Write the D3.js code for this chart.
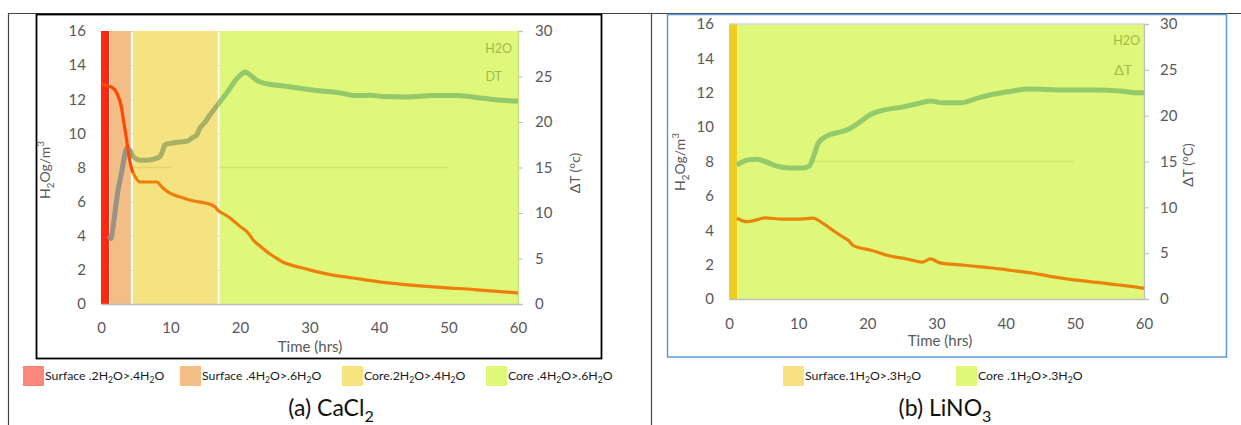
<!DOCTYPE html>
<html><head><meta charset="utf-8">
<script src="https://cdn.jsdelivr.net/npm/d3@7"></script>
<style>body{margin:0;background:#fff}svg{display:block}text{font-family:Lato,'Open Sans',sans-serif}</style>
</head><body><svg id="c" width="1241" height="425"></svg>
<script>
// ---------- shared ticks ----------
const xTicks = [0, 10, 20, 30, 40, 50, 60];
const yLeftTicks = [0, 2, 4, 6, 8, 10, 12, 14, 16];
const yRightTicks = [0, 5, 10, 15, 20, 25, 30];

// ---------- panel (a) CaCl2 ----------
const aBandStart = [0, 1.3, 4.6, 17.05];
const aBandEnd = [1.15, 4.3, 16.8, 60];
const aLegendLabels = ["Surface .2H_2O>.4H_2O", "Surface .4H_2O>.6H_2O", "Core.2H_2O>.4H_2O", "Core .4H_2O>.6H_2O"];
const aH2OEarlyT = [0, 1.2, 1.6, 2.3, 2.9, 3.3, 3.7, 4.0, 4.3, 4.6];
const aH2OEarlyV = [12.9, 12.75, 12.7, 12.35, 11.6, 10.6, 9.6, 8.7, 8.1, 7.7];
const aH2OLateT = [4.6, 5.0, 5.6, 6.6, 8.0, 8.9, 9.9, 11.4, 13.2, 15.2, 16.4, 16.8, 18.0, 19.0, 20.0, 21.2, 21.9, 23.0, 23.9, 25.0, 26.2, 27.4, 28.6, 30.0, 31.0, 33.0, 35.8, 38.3, 40.6, 43.0, 45.4, 47.8, 50.3, 52.7, 55.0, 57.5, 60];
const aH2OLateV = [7.7, 7.4, 7.15, 7.15, 7.15, 6.8, 6.5, 6.27, 6.05, 5.9, 5.7, 5.5, 5.2, 4.9, 4.55, 4.15, 3.75, 3.35, 3.05, 2.75, 2.45, 2.28, 2.15, 2.0, 1.9, 1.72, 1.55, 1.4, 1.27, 1.17, 1.08, 1.0, 0.93, 0.88, 0.8, 0.72, 0.65];
const aDTT = [1.2, 1.45, 1.6, 2.0, 2.45, 3.0, 3.45, 3.75, 4.0, 4.3, 4.6, 5.2, 5.6, 6.6, 7.5, 8.5, 8.9, 9.2, 10.4, 11.4, 12.4, 13.2, 13.8, 14.2, 15.0, 15.7, 16.8, 18.1, 19.6, 20.3, 20.7, 21.4, 22.2, 22.9, 24.7, 26.8, 28.6, 31.0, 34.4, 36.8, 38.8, 40.6, 44.0, 47.8, 51.2, 55.0, 57.4, 60];
const aDTV = [7.5, 7.2, 7.8, 10.0, 12.5, 14.6, 16.5, 17.2, 17.0, 16.7, 16.2, 15.9, 15.8, 15.8, 15.9, 16.2, 16.9, 17.5, 17.7, 17.8, 17.9, 18.3, 18.6, 19.3, 20.0, 20.8, 21.9, 23.2, 24.8, 25.3, 25.5, 25.2, 24.7, 24.4, 24.1, 23.9, 23.7, 23.45, 23.2, 22.9, 22.95, 22.8, 22.75, 22.9, 22.9, 22.6, 22.4, 22.3];
const aRefStart = [4.8, 17.1];
const aRefEnd = [10.2, 50];
const aRefValue = 15;

// ---------- panel (b) LiNO3 ----------
const bBandStart = [0, 1.2];
const bBandEnd = [1.2, 60];
const bLegendLabels = ["Surface.1H_2O>.3H_2O", "Core .1H_2O>.3H_2O"];
const bH2OT = [1.15, 2.6, 4.0, 5.2, 7.8, 10.3, 12.1, 13.6, 15.0, 16.3, 17.2, 18.0, 19.0, 20.4, 23.3, 25.7, 28.0, 29.1, 30.5, 32.0, 34.4, 36.8, 39.2, 41.6, 44.0, 46.4, 48.8, 51.2, 53.6, 56.0, 58.4, 60];
const bH2OV = [4.7, 4.5, 4.6, 4.72, 4.65, 4.65, 4.7, 4.4, 4.0, 3.65, 3.43, 3.1, 2.97, 2.85, 2.5, 2.33, 2.15, 2.33, 2.1, 2.03, 1.95, 1.85, 1.75, 1.62, 1.5, 1.32, 1.17, 1.05, 0.95, 0.83, 0.72, 0.62];
const bDTT = [1.15, 2.6, 4.0, 5.2, 6.9, 8.8, 10.7, 11.6, 12.2, 12.9, 14.2, 16.0, 17.5, 18.9, 20.4, 22.3, 24.7, 27.2, 29.1, 30.9, 32.0, 33.4, 36.3, 40.2, 43.5, 48.3, 53.2, 56.5, 59, 60];
const bDTV = [14.6, 15.15, 15.25, 15.0, 14.5, 14.3, 14.3, 14.5, 15.5, 17.0, 17.8, 18.2, 18.6, 19.3, 20.1, 20.6, 20.9, 21.3, 21.6, 21.4, 21.4, 21.4, 22.0, 22.6, 22.9, 22.8, 22.8, 22.7, 22.5, 22.5];
const bRefStart = [11.7];
const bRefEnd = [50];
const bRefValue = 15;

// ---------- styles ----------
const aBandColors = ["#fe2712", "#f2bd86", "#f5e280", "#dff77a"];
const aLegendColors = ["#fb877a", "#f4bd85", "#f7e380", "#e0f878"];
const bBandColors = ["#f1cd1f", "#dff77a"];
const bLegendColors = ["#f7e27f", "#e0f878"];
const tickColor = "#595959";
const FONT = "Lato, 'Open Sans', sans-serif";

const svg = d3.select("#c");

function rich(t, str, fs) {
  const parts = str.split(/([_^][0-9])/).filter(p => p.length);
  let shift = 0;
  parts.forEach(p => {
    const ts = t.append("tspan");
    if (p[0] === "_" || p[0] === "^") {
      const s = p[0] === "_" ? fs * 0.25 : -fs * 0.42;
      ts.attr("font-size", fs * 0.7).attr("dy", s - shift).text(p[1]);
      shift = s;
    } else {
      ts.attr("dy", -shift).text(p);
      shift = 0;
    }
  });
}
const zip = (a, b) => a.map((d, i) => [d, b[i]]);

// ---------- frame ----------
svg.append("line").attr("x1", 8).attr("x2", 1241).attr("y1", 13.5).attr("y2", 13.5).attr("stroke", "#444").attr("stroke-width", 1.2);
svg.append("line").attr("x1", 8.5).attr("x2", 8.5).attr("y1", 13).attr("y2", 425).attr("stroke", "#444").attr("stroke-width", 1.2);
svg.append("line").attr("x1", 651.5).attr("x2", 651.5).attr("y1", 13).attr("y2", 425).attr("stroke", "#444").attr("stroke-width", 1.2);
svg.append("rect").attr("x", 36.5).attr("y", 14.5).attr("width", 565).attr("height", 344).attr("fill", "none").attr("stroke", "#000").attr("stroke-width", 1.8);
svg.append("rect").attr("x", 667.5).attr("y", 14.5).attr("width", 559).attr("height", 342.5).attr("fill", "none").attr("stroke", "#5b9bd5").attr("stroke-width", 1.5);

function panel(o) {
  const g = svg.append("g");
  const x = d3.scaleLinear().domain([0, 60]).range(o.xr);
  const yL = d3.scaleLinear().domain([0, 16]).range(o.yr);
  const yR = d3.scaleLinear().domain([0, 30]).range(o.yr);
  g.append("g").selectAll("line").data(yLeftTicks).join("line")
    .attr("x1", x(0)).attr("x2", x(60)).attr("y1", d => yL(d) + 0.5).attr("y2", d => yL(d) + 0.5)
    .attr("stroke", "#d9d9d9").attr("stroke-width", 1);
  g.append("g").selectAll("rect").data(o.bandStart).join("rect")
    .attr("x", d => x(d)).attr("width", (d, i) => x(o.bandEnd[i]) - x(d))
    .attr("y", yL(16)).attr("height", yL(0) - yL(16))
    .attr("fill", (d, i) => o.bandColors[i]);
  if (o.topGrid) {
    g.append("line").attr("x1", x(0)).attr("x2", x(60)).attr("y1", yL(16)).attr("y2", yL(16)).attr("stroke", "#d6d6d6").attr("stroke-width", 1.5);
  }
  g.append("g").selectAll("line").data(o.refStart).join("line")
    .attr("x1", d => x(d)).attr("x2", (d, i) => x(o.refEnd[i]))
    .attr("y1", yR(o.refValue)).attr("y2", yR(o.refValue))
    .attr("stroke", "rgba(130,140,0,0.16)").attr("stroke-width", 1.6);
  const xa = g.append("g").attr("transform", `translate(0,${o.yr[0]})`)
    .call(d3.axisBottom(x).tickValues(xTicks).tickSize(0).tickPadding(o.xPad));
  xa.select(".domain").attr("stroke", "#bfbfbf").attr("stroke-width", 1.3);
  xa.selectAll("text").attr("fill", tickColor).attr("font-size", 15).attr("font-family", FONT);
  const la = g.append("g").attr("transform", `translate(${o.xr[0]},0)`)
    .call(d3.axisLeft(yL).tickValues(yLeftTicks).tickSize(0).tickPadding(15));
  la.select(".domain").remove();
  la.selectAll("text").attr("fill", tickColor).attr("font-size", 15).attr("font-family", FONT);
  const ra = g.append("g").attr("transform", `translate(${o.xr[1]},0)`)
    .call(d3.axisRight(yR).tickValues(yRightTicks).tickSize(5).tickPadding(o.rPad));
  ra.select(".domain").attr("stroke", o.rDomain).attr("stroke-width", 1.3);
  ra.selectAll("line").attr("stroke", "#bfbfbf");
  ra.selectAll("text").attr("fill", tickColor).attr("font-size", 15).attr("font-family", FONT);
  return { g, x, yL, yR };
}

function lineOf(x, y) {
  return d3.line().x(d => x(d[0])).y(d => y(d[1])).curve(d3.curveMonotoneX);
}

// ================= Panel A =================
const A = panel({ xr: [101, 518], yr: [304, 31], bandStart: aBandStart, bandEnd: aBandEnd, bandColors: aBandColors,
  refStart: aRefStart, refEnd: aRefEnd, refValue: aRefValue, xPad: 18, rPad: 12, rDomain: "#c8dc82", topGrid: false });
{
  const defs = svg.append("defs");
  const segs = [[-1, 4.45, "#9a9284"], [4.45, 16.9, "#a8b064"], [16.9, 61, "#93c96b"]];
  segs.forEach((s, i) => {
    defs.append("clipPath").attr("id", "ca" + i).append("rect")
      .attr("x", A.x(s[0])).attr("width", A.x(s[1]) - A.x(s[0])).attr("y", 0).attr("height", 425);
  });
  const dtLine = lineOf(A.x, A.yR);
  segs.forEach((s, i) => {
    A.g.append("path").attr("d", dtLine(zip(aDTT, aDTV))).attr("clip-path", `url(#ca${i})`)
      .attr("fill", "none").attr("stroke", s[2]).attr("stroke-width", 5).attr("stroke-linejoin", "round");
  });
  const hl = lineOf(A.x, A.yL);
  A.g.append("path").attr("d", hl(zip(aH2OLateT, aH2OLateV))).attr("fill", "none").attr("stroke", "#ef7f0c").attr("stroke-width", 3.2);
  A.g.append("path").attr("d", hl(zip(aH2OEarlyT, aH2OEarlyV))).attr("fill", "none").attr("stroke", "#ff4806").attr("stroke-width", 3.2);
}

// ================= Panel B =================
const B = panel({ xr: [729, 1144], yr: [299, 24], bandStart: bBandStart, bandEnd: bBandEnd, bandColors: bBandColors,
  refStart: bRefStart, refEnd: bRefEnd, refValue: bRefValue, xPad: 19, rPad: 11, rDomain: "#bfbfbf", topGrid: true });
{
  B.g.append("path").attr("d", lineOf(B.x, B.yR)(zip(bDTT, bDTV))).attr("fill", "none").attr("stroke", "#93cb6b").attr("stroke-width", 5);
  B.g.append("path").attr("d", lineOf(B.x, B.yL)(zip(bH2OT, bH2OV))).attr("fill", "none").attr("stroke", "#e8840a").attr("stroke-width", 3.2);
}

// ---------- axis titles ----------
function vtitle(x, y, str, fs) {
  const t = svg.append("text").attr("transform", `translate(${x},${y}) rotate(-90)`)
    .attr("text-anchor", "middle").attr("fill", tickColor).attr("font-size", fs).attr("font-family", FONT).attr("dy", "0.35em");
  rich(t, str, fs);
}
vtitle(50, 170, "H_2Og/m^3", 14);
vtitle(685, 162, "H_2Og/m^3", 14);
vtitle(580, 173, "\u0394T (\u00b0c)", 14);
vtitle(1193, 165, "\u0394T (\u00b0C)", 14);
svg.append("text").attr("x", 310).attr("y", 352).attr("text-anchor", "middle").attr("fill", tickColor).attr("font-size", 15).text("Time (hrs)");
svg.append("text").attr("x", 940).attr("y", 346).attr("text-anchor", "middle").attr("fill", tickColor).attr("font-size", 15).text("Time (hrs)");

svg.append("text").attr("x", 512).attr("y", 52.5).attr("text-anchor", "end").attr("fill", "#a2bb4a").attr("font-size", 12.5).text("H2O");
svg.append("text").attr("x", 502).attr("y", 80.5).attr("text-anchor", "end").attr("fill", "#a2bb4a").attr("font-size", 12.5).text("DT");
svg.append("text").attr("x", 1140).attr("y", 44.5).attr("text-anchor", "end").attr("fill", "#a2bb4a").attr("font-size", 12.5).text("H2O");
svg.append("text").attr("x", 1132).attr("y", 75).attr("text-anchor", "end").attr("fill", "#a2bb4a").attr("font-size", 14).attr("font-family", "'Liberation Serif', serif").text("\u0394T");

// ---------- legends ----------
function legend(xs, labels, colors) {
  labels.forEach((lab, i) => {
    svg.append("rect").attr("x", xs[i]).attr("y", 366).attr("width", 21).attr("height", 20).attr("fill", colors[i]);
    const t = svg.append("text").attr("x", xs[i] + 22).attr("y", 380).attr("fill", "#1a1a1a").attr("font-size", 12.3);
    rich(t, lab, 12.3);
  });
}
legend([23, 180, 342, 486], aLegendLabels, aLegendColors);
legend([783, 956], bLegendLabels, bLegendColors);

// ---------- captions ----------
const capA = svg.append("text").attr("x", 331).attr("y", 416).attr("text-anchor", "middle").attr("fill", "#111").attr("font-size", 23);
rich(capA, "(a) CaCl_2", 23);
const capB = svg.append("text").attr("x", 945).attr("y", 416).attr("text-anchor", "middle").attr("fill", "#111").attr("font-size", 23);
rich(capB, "(b) LiNO_3", 23);
</script></body></html>
